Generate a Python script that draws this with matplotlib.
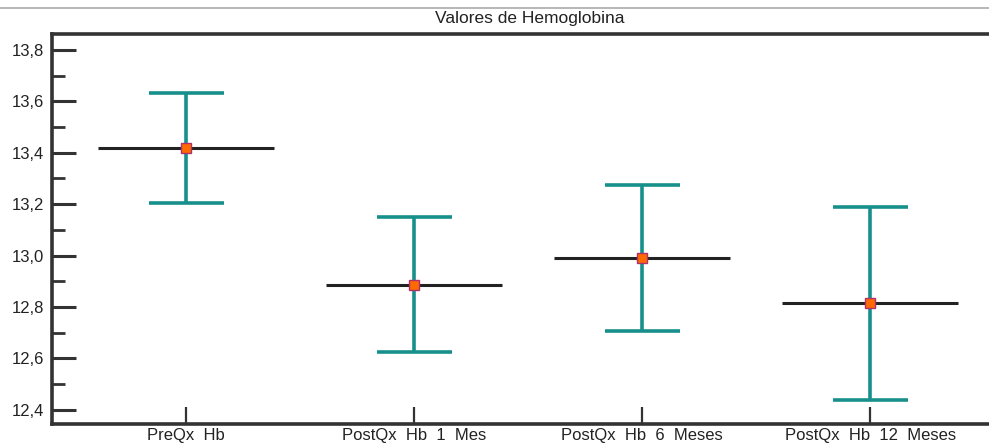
import matplotlib.pyplot as plt
import numpy as np
from matplotlib.ticker import MultipleLocator, FuncFormatter
from matplotlib.lines import Line2D

plt.rcParams['font.family'] = ['Liberation Sans', 'DejaVu Sans']

# Valores de hemoglobina: media e intervalo de confianza
grupos = ['PreQx  Hb', 'PostQx  Hb  1  Mes', 'PostQx  Hb  6  Meses', 'PostQx  Hb  12  Meses']
media = [13.419, 12.886, 12.991, 12.816]
ic_sup = [13.633, 13.150, 13.275, 13.189]
ic_inf = [13.205, 12.625, 12.707, 12.438]

fig = plt.figure(figsize=(9.89, 4.45), dpi=100)
ax = fig.add_axes([52 / 989, 21 / 445, 952 / 989, 390 / 445])

x = np.arange(len(grupos))
media = np.array(media)
err = [media - np.array(ic_inf), np.array(ic_sup) - media]

teal = '#17908c'
ax.errorbar(x, media, yerr=err, fmt='none', ecolor=teal, elinewidth=2.6,
            capsize=27, capthick=2.6, zorder=2)
ax.hlines(media, x - 0.385, x + 0.385, colors='#222222', linewidth=2.2, zorder=3)
ax.plot(x, media, 's', ms=7.5, mfc='#ff6a00', mec='#b0306a', mew=1.0, zorder=4)

ax.set_xlim(-0.586, 3.586)
ax.set_ylim(12.345, 13.862)
ax.set_xticks(x)
ax.set_xticklabels(grupos, fontsize=12, color='#222222')
ax.yaxis.set_major_locator(MultipleLocator(0.2))
ax.yaxis.set_minor_locator(MultipleLocator(0.1))
ax.yaxis.set_major_formatter(FuncFormatter(lambda v, p: ('%.1f' % v).replace('.', ',')))
ax.tick_params(axis='y', which='major', direction='in', length=17, width=2.2,
               color='#333333', labelsize=12, pad=6, labelcolor='#222222')
ax.tick_params(axis='y', which='minor', direction='in', length=9, width=2.0, color='#333333')
ax.tick_params(axis='x', direction='in', length=12, width=1.6, color='#333333', pad=3)

for s in ['left', 'top', 'bottom']:
    ax.spines[s].set_linewidth(2.6)
    ax.spines[s].set_color('#333333')
ax.spines['right'].set_visible(False)

fig.add_artist(Line2D([0, 1], [1 - 8 / 445, 1 - 8 / 445], transform=fig.transFigure,
                      color='#aaaaaa', linewidth=1.2))
fig.text(530 / 989, 1 - 19 / 445, 'Valores de Hemoglobina', ha='center', va='center',
         fontsize=12.5, color='#222222')

fig.savefig('out.png', dpi=100)
